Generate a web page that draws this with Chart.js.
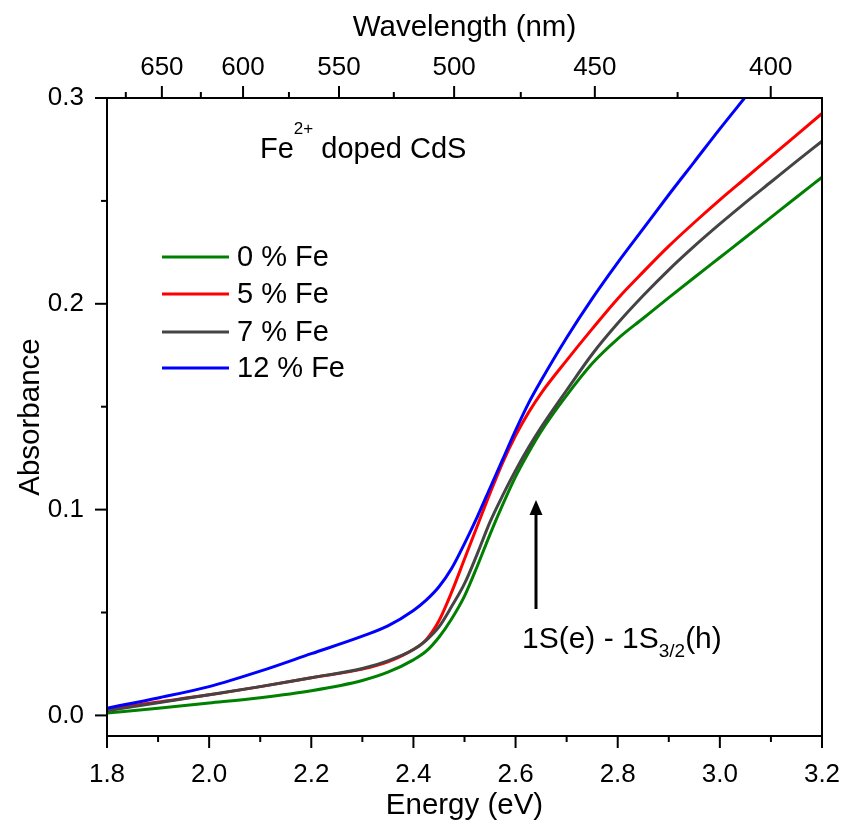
<!DOCTYPE html>
<html>
<head>
<meta charset="utf-8">
<script src="https://cdn.jsdelivr.net/npm/chart.js@4/dist/chart.umd.min.js"></script>
<style>
  html, body { margin: 0; padding: 0; background: #fff; }
  #wrap { width: 843px; height: 827px; position: relative; }
</style>
</head>
<body>
<div id="wrap"><canvas id="c"></canvas></div>
<script>
// ---- data ----
const energy = [1.8, 1.9, 2.0, 2.1, 2.2, 2.3, 2.35, 2.4, 2.425, 2.45, 2.475, 2.5, 2.525, 2.55, 2.575, 2.6, 2.625, 2.65, 2.7, 2.75, 2.8, 2.85, 2.9, 2.95, 3.0, 3.05, 3.1, 3.15, 3.2];
const fe0  = [0.0012, 0.0035, 0.0060, 0.0086, 0.0120, 0.0170, 0.0210, 0.0270, 0.0312, 0.0380, 0.0470, 0.0580, 0.0725, 0.0880, 0.1025, 0.1160, 0.1275, 0.1380, 0.1555, 0.1710, 0.1830, 0.1930, 0.2030, 0.2128, 0.2225, 0.2322, 0.2420, 0.2518, 0.2615];
const fe5  = [0.0030, 0.0065, 0.0100, 0.0140, 0.0183, 0.0225, 0.0260, 0.0320, 0.0368, 0.0460, 0.0600, 0.0760, 0.0920, 0.1080, 0.1230, 0.1360, 0.1470, 0.1565, 0.1725, 0.1878, 0.2025, 0.2155, 0.2280, 0.2395, 0.2505, 0.2610, 0.2715, 0.2820, 0.2925];
const fe7  = [0.0022, 0.0062, 0.0100, 0.0140, 0.0183, 0.0228, 0.0265, 0.0320, 0.0365, 0.0430, 0.0530, 0.0640, 0.0785, 0.0940, 0.1070, 0.1190, 0.1300, 0.1400, 0.1580, 0.1755, 0.1905, 0.2040, 0.2165, 0.2280, 0.2388, 0.2492, 0.2592, 0.2692, 0.2790];
const fe12 = [0.0035, 0.0085, 0.0140, 0.0215, 0.0300, 0.0385, 0.0435, 0.0510, 0.0560, 0.0625, 0.0715, 0.0835, 0.0965, 0.1105, 0.1245, 0.1385, 0.1515, 0.1627, 0.1835, 0.2025, 0.2200, 0.2365, 0.2530, 0.2690, 0.2850, 0.3005, null, null, null];
const seriesLabels = ['0 % Fe', '5 % Fe', '7 % Fe', '12 % Fe'];
const seriesColors = ['#008000', '#ff0000', '#444444', '#0000ff'];

const energyTicks = [1.8, 2.0, 2.2, 2.4, 2.6, 2.8, 3.0, 3.2];
const energyMinor = [1.9, 2.1, 2.3, 2.5, 2.7, 2.9, 3.1];
const absTicks = [0.0, 0.1, 0.2, 0.3];
const absMinor = [0.05, 0.15, 0.25];
const wavelengthTicks = [650, 600, 550, 500, 450, 400];
const wavelengthMinor = [675, 625, 575, 525, 475, 425];
const HC = 1239.84; // eV*nm

const FONT = "'Liberation Sans', Arial, sans-serif";

function pts(ys) { return energy.map((x, i) => ({x: x, y: ys[i]})); }

const datasets = [fe0, fe5, fe7, fe12].map((ys, i) => ({
  label: seriesLabels[i],
  data: pts(ys),
  borderColor: seriesColors[i],
  backgroundColor: seriesColors[i],
  borderWidth: 3,
  pointRadius: 0,
  showLine: true,
  fill: false,
  cubicInterpolationMode: 'monotone',
  spanGaps: false,
  order: 4 - i
}));

const decor = {
  id: 'decor',
  afterDraw(chart) {
    const {ctx, chartArea: a, scales} = chart;
    const sx = scales.x, sy = scales.y;
    ctx.save();
    ctx.strokeStyle = '#000';
    ctx.lineWidth = 2;
    ctx.lineCap = 'butt';
    ctx.strokeRect(a.left, a.top, a.right - a.left, a.bottom - a.top);
    function ln(x1, y1, x2, y2) { ctx.beginPath(); ctx.moveTo(x1, y1); ctx.lineTo(x2, y2); ctx.stroke(); }
    energyTicks.forEach(v => { const p = sx.getPixelForValue(v); ln(p, a.bottom, p, a.bottom + 12); });
    energyMinor.forEach(v => { const p = sx.getPixelForValue(v); ln(p, a.bottom, p, a.bottom + 6); });
    absTicks.forEach(v => { const p = sy.getPixelForValue(v); ln(a.left, p, a.left - 12, p); });
    absMinor.forEach(v => { const p = sy.getPixelForValue(v); ln(a.left, p, a.left - 6, p); });
    wavelengthTicks.forEach(w => { const p = sx.getPixelForValue(HC / w); ln(p, a.top, p, a.top - 12); });
    wavelengthMinor.forEach(w => { const p = sx.getPixelForValue(HC / w); if (p > a.left) ln(p, a.top, p, a.top - 6); });

    // legend
    ctx.font = '29px ' + FONT;
    ctx.textBaseline = 'middle';
    ctx.textAlign = 'left';
    const legY = [257, 294, 332, 368];
    chart.data.datasets.forEach((ds, i) => {
      ctx.strokeStyle = ds.borderColor;
      ctx.lineWidth = 3;
      ln(162, legY[i], 229, legY[i]);
      ctx.fillStyle = '#000';
      ctx.fillText(ds.label, 237, legY[i] + 1);
    });

    // title with superscript
    ctx.fillStyle = '#000';
    ctx.textBaseline = 'alphabetic';
    let x = 260;
    ctx.font = '29px ' + FONT;
    ctx.fillText('Fe', x, 158); x += ctx.measureText('Fe').width;
    ctx.font = '17px ' + FONT;
    ctx.fillText('2+', x, 134); x += ctx.measureText('2+').width;
    ctx.font = '29px ' + FONT;
    ctx.fillText(' doped CdS', x, 158);

    // arrow
    ctx.strokeStyle = '#000';
    ctx.lineWidth = 3;
    ln(536, 609, 536, 512);
    ctx.beginPath();
    ctx.moveTo(536, 500);
    ctx.lineTo(529.5, 515);
    ctx.lineTo(542.5, 515);
    ctx.closePath();
    ctx.fill();

    // annotation with subscript
    x = 522;
    ctx.font = '30px ' + FONT;
    ctx.fillText('1S(e) - 1S', x, 648); x += ctx.measureText('1S(e) - 1S').width;
    ctx.font = '19px ' + FONT;
    ctx.fillText('3/2', x, 657); x += ctx.measureText('3/2').width;
    ctx.font = '30px ' + FONT;
    ctx.fillText('(h)', x, 648);
    ctx.restore();
  }
};

function noSidePad(s) { s.paddingLeft = 0; s.paddingRight = 0; }

new Chart(document.getElementById('c'), {
  type: 'scatter',
  data: { datasets: datasets },
  options: {
    responsive: true,
    maintainAspectRatio: false,
    animation: false,
    layout: { padding: { left: 0, right: 21, top: 0, bottom: 0 } },
    plugins: { legend: { display: false }, tooltip: { enabled: false } },
    scales: {
      x: {
        type: 'linear', position: 'bottom', min: 1.8, max: 3.2,
        afterBuildTicks: s => { s.ticks = energyTicks.map(v => ({value: v})); },
        afterFit: s => { s.height = 91; noSidePad(s); },
        grid: { display: false, drawTicks: false },
        border: { display: false },
        ticks: { padding: 23, maxRotation: 0, autoSkip: false, color: '#000', font: { family: FONT, size: 26 },
                 callback: (v, i) => energyTicks[i].toFixed(1) },
        title: { display: true, text: 'Energy (eV)', color: '#000', font: { family: FONT, size: 29.5 }, padding: { top: 0, bottom: 3 } }
      },
      x2: {
        type: 'linear', position: 'top', min: 1.8, max: 3.2,
        afterBuildTicks: s => { s.ticks = wavelengthTicks.map(w => ({value: HC / w})); },
        afterFit: s => { s.height = 98; noSidePad(s); },
        grid: { display: false, drawTicks: false },
        border: { display: false },
        ticks: { padding: 15, maxRotation: 0, autoSkip: false, color: '#000', font: { family: FONT, size: 26 },
                 callback: (v, i) => String(wavelengthTicks[i]) },
        title: { display: true, text: 'Wavelength (nm)', color: '#000', font: { family: FONT, size: 29.5 }, padding: { top: 10, bottom: 0 } }
      },
      y: {
        type: 'linear', position: 'left', min: -0.01, max: 0.3,
        afterBuildTicks: s => { s.ticks = absTicks.map(v => ({value: v})); },
        afterFit: s => { s.width = 107; },
        grid: { display: false, drawTicks: false },
        border: { display: false },
        ticks: { padding: 23, color: '#000', font: { family: FONT, size: 26 },
                 callback: (v, i) => absTicks[i].toFixed(1) },
        title: { display: true, text: 'Absorbance', color: '#000', font: { family: FONT, size: 29.5 }, padding: { top: 13, bottom: 0 } }
      }
    }
  },
  plugins: [decor]
});
</script>
</body>
</html>
